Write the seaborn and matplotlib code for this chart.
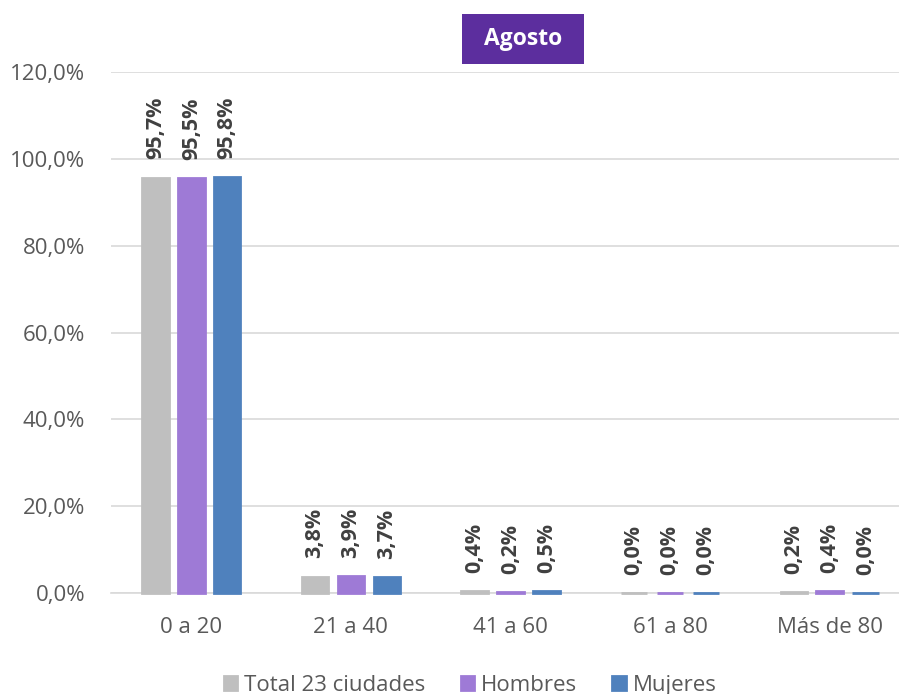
import matplotlib
matplotlib.use("Agg")
import matplotlib.pyplot as plt
import seaborn as sns
import pandas as pd
from matplotlib.patches import Rectangle

categories = ["0 a 20", "21 a 40", "41 a 60", "61 a 80", "Más de 80"]
series = ["Total 23 ciudades", "Hombres", "Mujeres"]
total = [95.7, 3.8, 0.4, 0.0, 0.2]
hombres = [95.5, 3.9, 0.2, 0.0, 0.4]
mujeres = [95.8, 3.7, 0.5, 0.0, 0.0]
yticks = [0, 20, 40, 60, 80, 100, 120]
title = "Agosto"

colors = ["#BFBFBF", "#9E7AD6", "#4F81BD"]

rows = []
for s, vals in zip(series, [total, hombres, mujeres]):
    for c, v in zip(categories, vals):
        rows.append({"cat": c, "serie": s, "val": v})
df = pd.DataFrame(rows)

sns.set_theme(style="white")
plt.rcParams["font.family"] = ["Open Sans", "DejaVu Sans"]

fig = plt.figure(figsize=(8.99, 6.94), dpi=100)
ax = fig.add_axes([0.124, 0.1455, 0.8877, 0.7507])

sns.barplot(data=df, x="cat", y="val", hue="serie", palette=colors,
            width=0.675, gap=0.26, ax=ax, saturation=1,
            linewidth=2, errorbar=None)
# edge colour equal to face colour so zero bars remain a thin line
for bar in ax.patches:
    bar.set_edgecolor(bar.get_facecolor())
    bar.set_clip_on(False)
    bar.set_zorder(3)

for cont in ax.containers:
    for bar in cont:
        h = bar.get_height()
        ax.annotate(f"{h:.1f}%".replace(".", ","),
                    (bar.get_x() + bar.get_width() / 2, h),
                    xytext=(0, 13), textcoords="offset points",
                    rotation=90, ha="center", va="bottom",
                    fontsize=15.5, fontweight="bold", color="#404040")

ax.set_ylim(0, 120)
ax.set_xlim(-0.5, 4.5)
ax.set_yticks(yticks)
ax.set_yticklabels([f"{t:.1f}%".replace(".", ",") for t in yticks])
ax.set_xlabel("")
ax.set_ylabel("")
ax.yaxis.grid(True, color="#D9D9D9", linewidth=1.2)
ax.set_axisbelow(True)
for sp in ["left", "right", "top"]:
    ax.spines[sp].set_visible(False)
ax.spines["bottom"].set_color("#D9D9D9")
ax.spines["bottom"].set_linewidth(1.2)
ax.tick_params(axis="y", length=0, pad=19, labelsize=16, labelcolor="#595959")
ax.tick_params(axis="x", length=0, pad=17, labelsize=16, labelcolor="#595959")

handles, labels = ax.get_legend_handles_labels()
ax.get_legend().remove()
fig.legend(handles, labels, loc="lower center", bbox_to_anchor=(0.523, -0.031),
           ncol=3, frameon=False, fontsize=16, labelcolor="#595959",
           handlelength=0.6, handleheight=0.6, handletextpad=0.3,
           columnspacing=1.6)

fig.add_artist(Rectangle((0.5139, 0.9078), 0.1357, 0.072,
                         transform=fig.transFigure, facecolor="#5C2E9E",
                         edgecolor="none"))
fig.text(0.5818, 0.9438, title, ha="center", va="center",
         color="white", fontsize=16.5, fontweight="bold")

fig.savefig("out.png", dpi=100)
